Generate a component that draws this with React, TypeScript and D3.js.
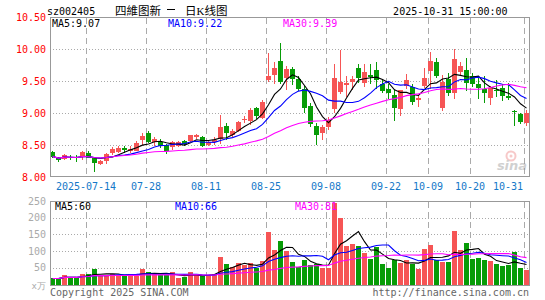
import * as d3 from "d3";

// trading days shown (2025-07-04 .. 2025-10-31)
const days = [
  "2025-07-04", "2025-07-07", "2025-07-08", "2025-07-09", "2025-07-10", "2025-07-11", "2025-07-14", "2025-07-15",
  "2025-07-16", "2025-07-17", "2025-07-18", "2025-07-21", "2025-07-22", "2025-07-23", "2025-07-24", "2025-07-25",
  "2025-07-28", "2025-07-29", "2025-07-30", "2025-07-31", "2025-08-01", "2025-08-04", "2025-08-05", "2025-08-06",
  "2025-08-07", "2025-08-08", "2025-08-11", "2025-08-12", "2025-08-13", "2025-08-14", "2025-08-15", "2025-08-18",
  "2025-08-19", "2025-08-20", "2025-08-21", "2025-08-22", "2025-08-25", "2025-08-26", "2025-08-27", "2025-08-28",
  "2025-08-29", "2025-09-01", "2025-09-02", "2025-09-03", "2025-09-04", "2025-09-05", "2025-09-08", "2025-09-09",
  "2025-09-10", "2025-09-11", "2025-09-12", "2025-09-15", "2025-09-16", "2025-09-17", "2025-09-18", "2025-09-19",
  "2025-09-22", "2025-09-23", "2025-09-24", "2025-09-25", "2025-09-26", "2025-09-29", "2025-09-30", "2025-10-09",
  "2025-10-10", "2025-10-13", "2025-10-14", "2025-10-15", "2025-10-16", "2025-10-17", "2025-10-20", "2025-10-21",
  "2025-10-22", "2025-10-23", "2025-10-24", "2025-10-27", "2025-10-28", "2025-10-29", "2025-10-30", "2025-10-31",
];

const open = [
  8.39, 8.29, 8.28, 8.32, 8.31, 8.32, 8.38, 8.30, 8.21, 8.25, 8.37, 8.39, 8.46, 8.41, 8.41, 8.58,
  8.69, 8.54, 8.55, 8.50, 8.47, 8.48, 8.56, 8.56, 8.63, 8.62, 8.50, 8.54, 8.59, 8.80, 8.66, 8.72,
  8.89, 8.87, 9.08, 8.92, 9.52, 9.59, 9.81, 9.55, 9.69, 9.53, 9.37, 9.11, 8.80, 8.69, 8.78, 9.06,
  9.33, 9.44, 9.48, 9.70, 9.47, 9.59, 9.67, 9.45, 9.38, 9.28, 9.06, 9.42, 9.41, 9.21, 9.42, 9.66,
  9.80, 9.08, 9.53, 9.31, 9.64, 9.67, 9.58, 9.45, 9.37, 9.23, 9.36, 9.39, 9.27, 9.03, 8.98, 8.84,
];
const high = [
  8.41, 8.31, 8.36, 8.35, 8.34, 8.40, 8.40, 8.31, 8.27, 8.37, 8.47, 8.48, 8.48, 8.49, 8.56, 8.68,
  8.72, 8.62, 8.60, 8.51, 8.57, 8.56, 8.58, 8.66, 8.67, 8.64, 8.56, 8.62, 8.97, 8.85, 8.75, 8.88,
  8.95, 9.08, 9.10, 9.20, 9.94, 9.80, 10.09, 9.73, 9.72, 9.58, 9.42, 9.15, 8.84, 8.82, 8.94, 9.77,
  9.98, 9.58, 9.58, 9.77, 9.77, 9.76, 9.80, 9.52, 9.45, 9.36, 9.36, 9.61, 9.45, 9.28, 9.70, 9.95,
  9.86, 9.60, 9.62, 10.00, 9.80, 9.86, 9.62, 9.58, 9.58, 9.42, 9.52, 9.45, 9.47, 9.05, 9.00, 9.04,
];
const low = [
  8.29, 8.24, 8.26, 8.26, 8.24, 8.26, 8.29, 8.08, 8.19, 8.21, 8.35, 8.37, 8.38, 8.37, 8.40, 8.50,
  8.53, 8.49, 8.45, 8.36, 8.42, 8.47, 8.49, 8.54, 8.60, 8.47, 8.48, 8.50, 8.52, 8.58, 8.62, 8.70,
  8.84, 8.82, 8.90, 8.90, 9.48, 9.46, 9.45, 9.36, 9.44, 9.34, 9.00, 8.78, 8.50, 8.58, 8.74, 9.00,
  9.30, 9.25, 9.36, 9.47, 9.40, 9.45, 9.38, 9.31, 9.22, 8.88, 8.96, 9.38, 9.13, 9.10, 9.39, 9.38,
  9.55, 9.03, 9.27, 9.22, 9.58, 9.34, 9.40, 9.22, 9.15, 9.12, 9.25, 9.18, 9.20, 8.79, 8.83, 8.80,
];
const close = [
  8.32, 8.27, 8.34, 8.30, 8.29, 8.39, 8.30, 8.22, 8.25, 8.36, 8.44, 8.46, 8.42, 8.44, 8.53, 8.64,
  8.55, 8.59, 8.48, 8.41, 8.55, 8.54, 8.51, 8.66, 8.65, 8.49, 8.54, 8.58, 8.78, 8.68, 8.72, 8.86,
  8.90, 9.05, 8.95, 9.17, 9.58, 9.70, 9.48, 9.69, 9.53, 9.37, 9.08, 8.83, 8.66, 8.78, 8.89, 9.55,
  9.48, 9.47, 9.53, 9.55, 9.64, 9.56, 9.52, 9.34, 9.31, 9.08, 9.36, 9.52, 9.17, 9.24, 9.55, 9.81,
  9.58, 9.48, 9.31, 9.84, 9.73, 9.47, 9.45, 9.39, 9.31, 9.39, 9.34, 9.27, 9.24, 9.01, 8.86, 9.00,
];
// volume, 万手
const volume = [
  18, 18, 28, 21, 21, 32, 30, 45, 26, 26, 32, 28, 26, 32, 26, 45,
  36, 30, 28, 28, 36, 20, 21, 36, 28, 26, 28, 31, 83, 60, 53, 63,
  58, 63, 50, 70, 156, 103, 129, 100, 67, 52, 72, 57, 62, 49, 49, 244,
  199, 114, 120, 114, 94, 75, 112, 60, 49, 74, 64, 74, 62, 46, 105, 117,
  74, 66, 66, 159, 102, 124, 75, 79, 74, 70, 60, 54, 57, 97, 49, 42,
];

const priceTicks = [8, 8.5, 9, 9.5, 10, 10.5];
const volumeTicks = [50, 100, 150, 200, 250];
const tickDays = ["2025-07-14", "2025-07-28", "2025-08-11", "2025-08-25", "2025-09-08", "2025-09-22", "2025-10-09", "2025-10-20", "2025-10-31"];
const maPeriods = [5, 10, 30];
const maColors = ["#000000", "#0000ff", "#ff00ff"];
const priceMaLabels = [9.07, 9.22, 9.39];
const volumeMaLabels = [60, 66, 81];

const RED = "#f65555";
const GREEN = "#079c07";
const MONO = "'DejaVu Sans Mono', 'Liberation Mono', monospace";
const CJK = "'Noto Sans CJK SC', sans-serif";

function movingAvg(values: number[], n: number) {
  return values.map((_, i) => d3.mean(values.slice(Math.max(0, i - n + 1), i + 1)) as number);
}

export default function App() {
  const x = d3.scaleBand<string>().domain(days).range([50, 530]);
  const y = d3.scaleLinear().domain([8, 10.5]).range([177, 17]);
  const yv = d3.scaleLinear().domain([0, 250]).range([284.5, 201]);
  const cx = (d: string) => (x(d) as number) + 2.5;

  const priceLine = d3.line<number>().x((_, i) => cx(days[i])).y((d) => y(d));
  const volLine = d3.line<number>().x((_, i) => cx(days[i])).y((d) => yv(d));

  const up = (i: number) => close[i] >= open[i];

  return (
    <svg width={545} height={300} style={{ position: "absolute", left: 0, top: 0, background: "#fff" }}
      fontFamily={MONO} fontSize={10}>
      {/* header */}
      <text x={47} y={15} fill="#000">sz002405</text>
      <text x={115} y={15} fill="#000" fontFamily={CJK} fontSize={11.5}>四維图新</text>
      <line x1={167} x2={175} y1={9.5} y2={9.5} stroke="#000" />
      <text x={185} y={15} fill="#000" fontFamily={CJK} fontSize={11.5}>日<tspan fontFamily="'Liberation Serif', serif" fontSize={11}>K</tspan>线图</text>
      <text x={507.5} y={15} fill="#000" textAnchor="end">2025-10-31 15:00:00</text>

      {/* price grid */}
      <g stroke="#aaa" shapeRendering="crispEdges">
        {priceTicks.slice(1, -1).map((t) => (
          <line key={t} x1={50} x2={530} y1={Math.round(y(t)) + 0.5} y2={Math.round(y(t)) + 0.5} strokeDasharray="1,2" />
        ))}
        {tickDays.map((d) => (
          <line key={d} x1={(x(d) as number) + 0.5} x2={(x(d) as number) + 0.5} y1={18} y2={177} strokeDasharray="6,4" />
        ))}
      </g>

      {/* candles */}
      <g shapeRendering="crispEdges">
        {days.map((d, i) => {
          const top = Math.round(y(Math.max(open[i], close[i])));
          const bot = Math.round(y(Math.min(open[i], close[i])));
          const c = up(i) ? RED : GREEN;
          return (
            <g key={d}>
              <line x1={cx(d)} x2={cx(d)} y1={Math.round(y(high[i]))} y2={Math.round(y(low[i]))} stroke={c} />
              <rect x={x(d)} y={top} width={5} height={Math.max(1, bot - top)} fill={c} />
            </g>
          );
        })}
      </g>

      {/* price moving averages */}
      <g fill="none" strokeWidth={1.1}>
        {maPeriods.map((n, k) => (
          <path key={n} d={priceLine(movingAvg(close, n)) as string} stroke={maColors[k]} />
        ))}
      </g>

      <rect x={50.5} y={17.5} width={479} height={159} fill="none" stroke="#999" shapeRendering="crispEdges" />

      {/* sina watermark */}
      <g opacity={0.45}>
        <circle cx={511} cy={156} r={4.5} fill="none" stroke="#e88" strokeWidth={2} />
        <circle cx={511} cy={156} r={1.5} fill="#e88" />
        <text x={512} y={170} textAnchor="middle" fontFamily="'DejaVu Sans', sans-serif" fontStyle="italic" fontWeight="bold" fontSize={13} fill="#999">sina</text>
      </g>

      {/* price axis */}
      {priceTicks.map((t) => (
        <text key={t} x={46} y={y(t) + 3.5} textAnchor="end" fill="#ff0000">{t.toFixed(2)}</text>
      ))}

      {/* MA labels */}
      {priceMaLabels.map((v, k) => (
        <text key={k} x={[52, 168, 283][k]} y={26.5} fill={maColors[k]}>{`MA${maPeriods[k]}:${v.toFixed(2)}`}</text>
      ))}

      {/* date axis */}
      {tickDays.map((d, k) => {
        const last = k === tickDays.length - 1;
        return (
          <text key={d} x={last ? 523 : (x(d) as number)} y={189.5} textAnchor={last ? "end" : "middle"} fill="#1478c8">
            {k === 0 ? d : d.slice(5)}
          </text>
        );
      })}

      {/* volume grid */}
      <g stroke="#aaa" shapeRendering="crispEdges">
        {volumeTicks.slice(0, -1).map((t) => (
          <line key={t} x1={50} x2={530} y1={Math.round(yv(t)) + 0.5} y2={Math.round(yv(t)) + 0.5} strokeDasharray="1,2" />
        ))}
        {tickDays.map((d) => (
          <line key={d} x1={(x(d) as number) + 0.5} x2={(x(d) as number) + 0.5} y1={202} y2={285} strokeDasharray="6,4" />
        ))}
      </g>

      {/* volume bars */}
      <g shapeRendering="crispEdges">
        {days.map((d, i) => {
          const top = Math.round(yv(volume[i]));
          return <rect key={d} x={x(d)} y={top} width={5} height={285 - top} fill={up(i) ? RED : GREEN} />;
        })}
      </g>

      <g fill="none" strokeWidth={1.1}>
        {maPeriods.map((n, k) => (
          <path key={n} d={volLine(movingAvg(volume, n)) as string} stroke={maColors[k]} />
        ))}
      </g>

      <rect x={50.5} y={201.5} width={479} height={84} fill="none" stroke="#999" shapeRendering="crispEdges" />

      {volumeTicks.map((t) => (
        <text key={t} x={46} y={yv(t) + 3.5} textAnchor="end" fill="#aaa">{t}</text>
      ))}
      <text x={46} y={288.5} textAnchor="end" fill="#aaa" fontSize={9}>x万</text>

      {volumeMaLabels.map((v, k) => (
        <text key={k} x={[55, 175, 295][k]} y={209.5} fill={maColors[k]}>{`MA${maPeriods[k]}:${v}`}</text>
      ))}

      {/* footer */}
      <text x={50} y={295.5} fill="#666">Copyright 2025 SINA.COM</text>
      <text x={529} y={295.5} fill="#666" textAnchor="end">http://finance.sina.com.cn</text>
    </svg>
  );
}
